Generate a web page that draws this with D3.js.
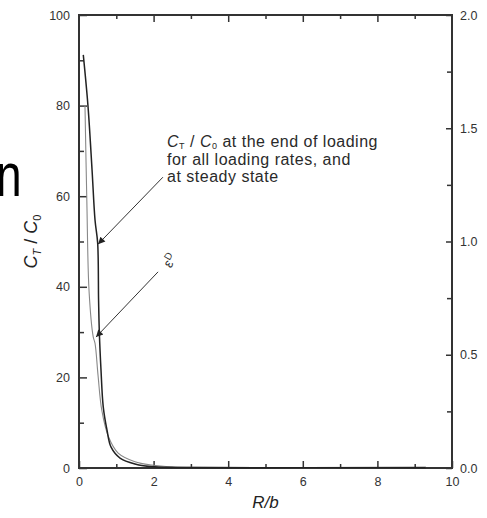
<!DOCTYPE html>
<html>
<head>
<meta charset="utf-8">
<script src="https://cdn.jsdelivr.net/npm/d3@7"></script>
<style>
  body { margin: 0; background: #fff; }
  svg { display: block; font-family: "Liberation Sans", Arial, sans-serif; }
  .tick text { font-size: 12.5px; fill: #333; }
  .tick line { stroke: #333; stroke-width: 1.5; }
</style>
</head>
<body>
<svg></svg>
<script>
const width = 487;
const height = 518;

// C_T / C_0 at end of loading (left axis)
const ctX = [0.115, 0.24, 0.35, 0.43, 0.5, 0.525, 0.545, 0.59, 0.65, 0.75, 0.86, 1.1, 1.5, 2.03, 3.0, 9.3];
const ctY = [91.2, 80, 65.8, 54.7, 49.7, 37, 30, 21.6, 13.5, 8.4, 4.6, 2.2, 0.9, 0.25, 0.1, 0.1];
// epsilon^D (right axis)
const epsX = [0.16, 0.21, 0.27, 0.38, 0.43, 0.51, 0.61, 0.79, 1.05, 1.5, 1.95, 2.5, 3.0, 9.3];
const epsY = [1.6, 1.18, 0.78, 0.58, 0.55, 0.41, 0.256, 0.138, 0.066, 0.028, 0.013, 0.005, 0.003, 0.002];

const xTicks = d3.range(0, 11, 1);
const yLeftTicks = d3.range(0, 101, 10);
const yRightTicks = d3.range(0, 2.01, 0.25);

const svg = d3.select('svg').attr('width', width).attr('height', height);

const margin = {left: 79, right: 35, top: 15, bottom: 50};
const x = d3.scaleLinear().domain([0, 10]).range([margin.left, width - margin.right]);
const yL = d3.scaleLinear().domain([0, 100]).range([height - margin.bottom, margin.top]);
const yR = d3.scaleLinear().domain([0, 2]).range([height - margin.bottom, margin.top]);

// cropped letter from the slide at far left
svg.append('text')
    .attr('transform', 'translate(-4,196) scale(0.72,0.95)')
    .style('font-size', '64px')
    .style('fill', '#000')
    .text('n');

// axes (ticks pointing inwards)
const gB = svg.append('g')
    .attr('transform', `translate(0,${yL(0)})`)
    .call(d3.axisBottom(x).tickValues(xTicks).tickSize(-5).tickPadding(9)
        .tickFormat(d => d % 2 === 0 ? d : ''));
gB.selectAll('.tick line').attr('y2', d => d % 2 === 0 ? -7 : -4);

const gT = svg.append('g')
    .attr('transform', `translate(0,${yL(100)})`)
    .call(d3.axisTop(x).tickValues(xTicks.slice(1, -1)).tickSize(-5).tickFormat(''));
gT.selectAll('.tick line').attr('y2', d => d % 2 === 0 ? 7 : 4);

const gL = svg.append('g')
    .attr('transform', `translate(${x(0)},0)`)
    .call(d3.axisLeft(yL).tickValues(yLeftTicks).tickSize(-5).tickPadding(9)
        .tickFormat(d => d % 20 === 0 ? d : ''));
gL.selectAll('.tick line').attr('x2', d => d % 20 === 0 ? 8 : 5);

const gR = svg.append('g')
    .attr('transform', `translate(${x(10)},0)`)
    .call(d3.axisRight(yR).tickValues(yRightTicks).tickSize(-5).tickPadding(8)
        .tickFormat(d => Math.abs(d * 2 - Math.round(d * 2)) < 1e-6 ? d3.format('.1f')(d) : ''));
gR.selectAll('.tick line').attr('x2', d => Math.abs(d * 2 - Math.round(d * 2)) < 1e-6 ? -6 : -5);

svg.selectAll('.domain').remove();

svg.append('rect')
    .attr('x', x(0)).attr('y', yL(100))
    .attr('width', x(10) - x(0)).attr('height', yL(0) - yL(100))
    .attr('fill', 'none')
    .attr('stroke', '#333')
    .attr('stroke-width', 2);

// curves
const lineL = d3.line().x((d, i) => x(ctX[i])).y(d => yL(d)).curve(d3.curveCatmullRom.alpha(0.5));
const lineR = d3.line().x((d, i) => x(epsX[i])).y(d => yR(d)).curve(d3.curveCatmullRom.alpha(0.5));

svg.append('path')
    .datum(epsY)
    .attr('d', lineR)
    .attr('fill', 'none')
    .attr('stroke', '#888')
    .attr('stroke-width', 1.1);

svg.append('path')
    .datum(ctY)
    .attr('d', lineL)
    .attr('fill', 'none')
    .attr('stroke', '#222')
    .attr('stroke-width', 1.5);

// axis titles
const yTitle = svg.append('text')
    .attr('transform', `translate(37,${(yL(0) + yL(100)) / 2}) rotate(-90)`)
    .attr('text-anchor', 'middle')
    .style('font-size', '18px')
    .style('fill', '#222');
yTitle.append('tspan').style('font-style', 'italic').text('C');
yTitle.append('tspan').attr('dy', 4).style('font-size', '11px').style('font-style', 'italic').text('T');
yTitle.append('tspan').attr('dy', -4).text(' / ');
yTitle.append('tspan').style('font-style', 'italic').text('C');
yTitle.append('tspan').attr('dy', 4).style('font-size', '11px').text('0');

svg.append('text')
    .attr('x', (x(0) + x(10)) / 2)
    .attr('y', 508)
    .attr('text-anchor', 'middle')
    .style('font-size', '17px')
    .style('font-style', 'italic')
    .style('fill', '#222')
    .text('R/b');

// annotations
const defs = svg.append('defs');
defs.append('marker')
    .attr('id', 'arrow')
    .attr('viewBox', '0 0 10 10')
    .attr('refX', 10).attr('refY', 5)
    .attr('markerWidth', 9).attr('markerHeight', 7)
    .attr('markerUnits', 'userSpaceOnUse')
    .attr('orient', 'auto')
    .append('path')
    .attr('d', 'M0,0 L10,5 L0,10 Z')
    .attr('fill', '#222');

const arrows = [
  {from: [2.25, 64.2], to: [0.51, 49.4]},
  {from: [2.12, 43.3], to: [0.456, 28.9]}
];
svg.selectAll('.arrow')
    .data(arrows)
    .enter().append('line')
    .attr('class', 'arrow')
    .attr('x1', d => x(d.from[0])).attr('y1', d => yL(d.from[1]))
    .attr('x2', d => x(d.to[0])).attr('y2', d => yL(d.to[1]))
    .attr('stroke', '#333')
    .attr('stroke-width', 1)
    .attr('marker-end', 'url(#arrow)');

const noteStyle = sel => sel.style('font-size', '16px').style('letter-spacing', '0.5px').style('fill', '#2a2a2a');
const note = svg.append('text').call(noteStyle)
    .attr('x', x(2.36)).attr('y', 147);
note.append('tspan').style('font-style', 'italic').text('C');
note.append('tspan').attr('dy', 2).style('font-size', '9px').text('T');
note.append('tspan').attr('dy', -2).text(' / ');
note.append('tspan').style('font-style', 'italic').text('C');
note.append('tspan').attr('dy', 2).style('font-size', '9px').text('0');
note.append('tspan').attr('dy', -2).text(' at the end of loading');
svg.append('text').call(noteStyle)
    .attr('x', x(2.36)).attr('y', 165)
    .text('for all loading rates, and');
svg.append('text').call(noteStyle)
    .attr('x', x(2.36)).attr('y', 182)
    .text('at steady state');

const eps = svg.append('text')
    .attr('transform', 'translate(174,263) rotate(-60)')
    .attr('text-anchor', 'middle')
    .style('font-size', '14px')
    .style('fill', '#333');
eps.append('tspan').text('ε');
eps.append('tspan').attr('dy', -5).style('font-size', '10px').text('D');
</script>
</body>
</html>
